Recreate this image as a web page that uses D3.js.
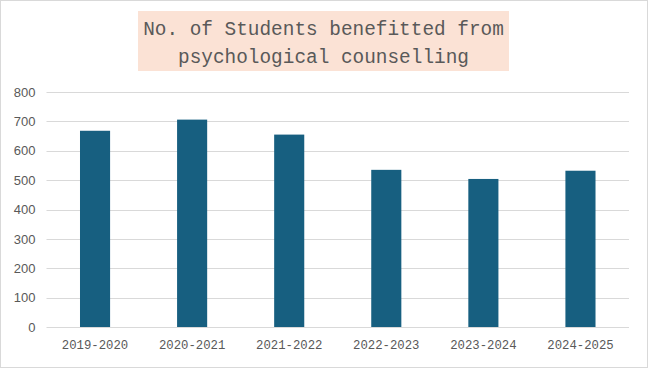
<!DOCTYPE html>
<html>
<head>
<meta charset="utf-8">
<script src="https://cdn.jsdelivr.net/npm/d3@7"></script>
<style>
  body { margin: 0; background: #fff; }
  svg { display: block; }
</style>
</head>
<body>
<svg id="chart" width="648" height="368"></svg>
<script>
// data
let years = ['2019-2020', '2020-2021', '2021-2022', '2022-2023', '2023-2024', '2024-2025'];
let students = [668, 706, 655, 535, 504, 532];
let y_ticks = [0, 100, 200, 300, 400, 500, 600, 700, 800];
let title_lines = ['No. of Students benefitted from', 'psychological counselling'];

let width = 648, height = 368;
let margin = {top: 92, right: 19, bottom: 41, left: 46.5};

let svg = d3.select('#chart');

// outer frame
svg.append('rect')
  .attr('x', 0.5).attr('y', 0.5)
  .attr('width', width - 1).attr('height', height - 1)
  .attr('fill', '#fff')
  .attr('stroke', '#d9d9d9');

let sx = d3.scaleBand()
  .domain(years)
  .range([margin.left, width - margin.right])
  .paddingInner(0.69)
  .paddingOuter(0.345);

let sy = d3.scaleLinear()
  .domain([0, 800])
  .range([height - margin.bottom, margin.top]);

// gridlines
svg.append('g')
  .selectAll('line')
  .data(y_ticks)
  .join('line')
    .attr('x1', margin.left)
    .attr('x2', width - margin.right)
    .attr('y1', d => Math.round(sy(d)) + 0.5)
    .attr('y2', d => Math.round(sy(d)) + 0.5)
    .attr('stroke', '#d9d9d9')
    .attr('stroke-width', 1);

// y labels
let y_axis = d3.axisLeft(sy).tickValues(y_ticks).tickSize(0).tickPadding(11);
svg.append('g')
  .attr('transform', `translate(${margin.left},0)`)
  .call(y_axis)
  .call(g => g.select('.domain').remove())
  .call(g => g.selectAll('text')
    .attr('fill', '#595959')
    .attr('font-family', '"Liberation Sans", Arial, sans-serif')
    .attr('font-size', 13));

// bars
svg.append('g')
  .selectAll('rect')
  .data(students)
  .join('rect')
    .attr('x', (d, i) => sx(years[i]))
    .attr('y', d => sy(d))
    .attr('width', sx.bandwidth())
    .attr('height', d => sy(0) - sy(d))
    .attr('fill', '#175F80');

// x labels
let x_axis = d3.axisBottom(sx).tickSize(0).tickPadding(13);
svg.append('g')
  .attr('transform', `translate(0,${sy(0)})`)
  .call(x_axis)
  .call(g => g.select('.domain').remove())
  .call(g => g.selectAll('text')
    .attr('fill', '#595959')
    .attr('font-family', '"Liberation Mono", "Courier New", monospace')
    .attr('font-size', 12.3));

// title box
svg.append('rect')
  .attr('x', 138).attr('y', 11)
  .attr('width', 371).attr('height', 60)
  .attr('fill', '#FBE2D5');

svg.append('g')
  .selectAll('text')
  .data(title_lines)
  .join('text')
    .attr('x', 323.5)
    .attr('y', (d, i) => 35 + i * 28)
    .attr('text-anchor', 'middle')
    .attr('fill', '#595959')
    .attr('font-family', '"Liberation Mono", "Courier New", monospace')
    .attr('font-size', 19.4)
    .text(d => d);
</script>
</body>
</html>
